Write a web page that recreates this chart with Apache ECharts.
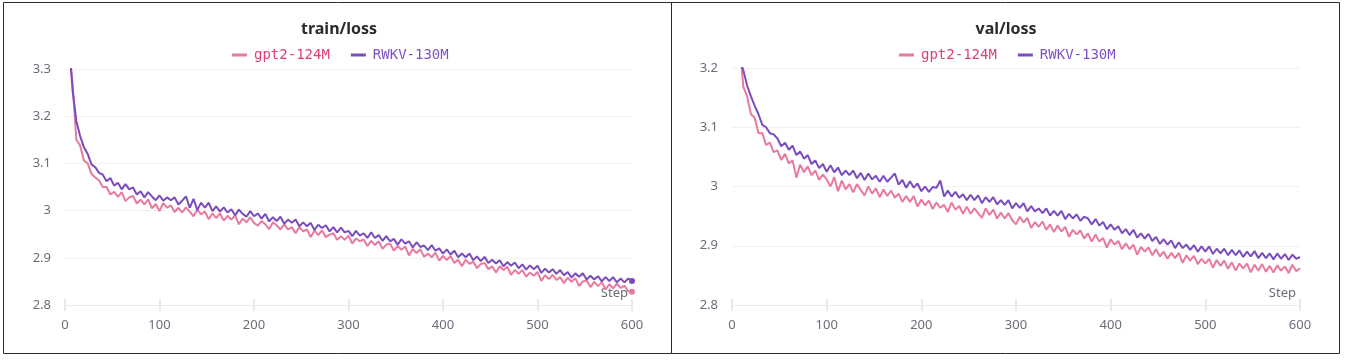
<!DOCTYPE html>
<html>
<head>
<meta charset="utf-8">
<script src="https://cdn.jsdelivr.net/npm/echarts@6/dist/echarts.min.js"></script>
<style>
html,body{margin:0;padding:0;background:#fff;}
#c{width:1345px;height:361px;}
</style>
</head>
<body>
<div id="c"></div>
<script>
// ---- data ----
const seriesNames = ['gpt2-124M', 'RWKV-130M'];
const xTicks = [0, 100, 200, 300, 400, 500, 600];

// train/loss sampled at steps 6, 8, 12, 16, ..., 600
const trainGpt2 = [
  3.31, 3.27, 3.15, 3.138, 3.106, 3.1, 3.078, 3.07, 3.064, 3.05,
  3.05, 3.034, 3.04, 3.029, 3.039, 3.02, 3.028, 3.031, 3.015, 3.023,
  3.013, 3.024, 3.005, 3.014, 2.999, 3.016, 3.006, 3.011, 2.997, 3.006,
  2.996, 3.007, 2.998, 2.988, 3.002, 2.992, 2.998, 2.982, 2.994, 2.984,
  2.994, 2.979, 2.989, 2.981, 2.99, 2.971, 2.983, 2.975, 2.986, 2.974,
  2.968, 2.978, 2.971, 2.961, 2.975, 2.969, 2.96, 2.971, 2.96, 2.965,
  2.952, 2.965, 2.956, 2.96, 2.944, 2.958, 2.948, 2.958, 2.944, 2.949,
  2.952, 2.938, 2.946, 2.938, 2.947, 2.93, 2.941, 2.935, 2.939, 2.925,
  2.936, 2.927, 2.935, 2.919, 2.928, 2.93, 2.915, 2.925, 2.917, 2.924,
  2.905, 2.919, 2.91, 2.918, 2.902, 2.909, 2.901, 2.911, 2.894, 2.904,
  2.895, 2.904, 2.889, 2.896, 2.882, 2.896, 2.887, 2.892, 2.878, 2.887,
  2.889, 2.876, 2.882, 2.869, 2.882, 2.874, 2.881, 2.864, 2.874, 2.866,
  2.874, 2.86, 2.869, 2.862, 2.87, 2.851, 2.863, 2.855, 2.864, 2.853,
  2.859, 2.846, 2.858, 2.849, 2.857, 2.84, 2.85, 2.852, 2.838, 2.849,
  2.84, 2.848, 2.833, 2.844, 2.835, 2.845, 2.836, 2.841, 2.829, 2.828
];
const trainRwkv = [
  3.31, 3.255, 3.19, 3.158, 3.134, 3.12, 3.098, 3.092, 3.08, 3.076,
  3.062, 3.069, 3.053, 3.059, 3.045, 3.056, 3.045, 3.049, 3.034, 3.041,
  3.028, 3.039, 3.03, 3.022, 3.032, 3.021, 3.028, 3.022, 3.028, 3.013,
  3.021, 3.03, 3.006, 3.025, 3.001, 3.017, 3.006, 3.017, 2.999, 3.009,
  2.998, 3.007, 2.996, 3.003, 2.99, 3.002, 2.993, 2.987, 2.999, 2.988,
  2.994, 2.983, 2.993, 2.977, 2.986, 2.978, 2.987, 2.972, 2.981, 2.974,
  2.981, 2.967, 2.975, 2.967, 2.974, 2.959, 2.97, 2.963, 2.969, 2.956,
  2.965, 2.954, 2.964, 2.954, 2.957, 2.946, 2.957, 2.947, 2.952, 2.942,
  2.954, 2.942, 2.948, 2.936, 2.946, 2.935, 2.94, 2.928, 2.939, 2.93,
  2.935, 2.922, 2.933, 2.923, 2.926, 2.916, 2.927, 2.915, 2.92, 2.909,
  2.918, 2.907, 2.915, 2.901, 2.909, 2.901, 2.909, 2.895, 2.903, 2.893,
  2.902, 2.889, 2.896, 2.888, 2.895, 2.882, 2.891, 2.883, 2.89, 2.878,
  2.886, 2.875, 2.884, 2.876, 2.883, 2.868, 2.877, 2.869, 2.876, 2.866,
  2.874, 2.863, 2.87, 2.858, 2.867, 2.86, 2.867, 2.854, 2.862, 2.854,
  2.861, 2.85, 2.859, 2.851, 2.859, 2.848, 2.856, 2.848, 2.856, 2.851
];

// val/loss sampled at steps 10, 12, 16, 20, ..., 600
const valGpt2 = [
  3.205, 3.168, 3.152, 3.122, 3.116, 3.09, 3.09, 3.07, 3.074, 3.058,
  3.061, 3.045, 3.055, 3.039, 3.044, 3.015, 3.037, 3.024, 3.034, 3.019,
  3.027, 3.011, 3.02, 3.012, 3.0, 3.016, 2.992, 3.01, 2.995, 3.004,
  2.99, 3.004, 2.994, 2.985, 3.0, 2.988, 2.997, 2.982, 2.995, 2.984,
  2.993, 2.981, 2.988, 2.974, 2.984, 2.974, 2.984, 2.966, 2.978, 2.968,
  2.976, 2.962, 2.973, 2.964, 2.969, 2.957, 2.973, 2.961, 2.967, 2.954,
  2.966, 2.954, 2.963, 2.955, 2.947, 2.963, 2.952, 2.961, 2.946, 2.956,
  2.946, 2.955, 2.943, 2.936, 2.949, 2.939, 2.947, 2.93, 2.94, 2.932,
  2.941, 2.927, 2.936, 2.923, 2.934, 2.924, 2.932, 2.915, 2.927, 2.919,
  2.926, 2.912, 2.921, 2.907, 2.919, 2.907, 2.913, 2.897, 2.911, 2.902,
  2.908, 2.894, 2.904, 2.894, 2.902, 2.885, 2.898, 2.89, 2.897, 2.884,
  2.894, 2.882, 2.89, 2.878, 2.888, 2.879, 2.888, 2.871, 2.884, 2.875,
  2.883, 2.869, 2.878, 2.87, 2.878, 2.863, 2.876, 2.866, 2.875, 2.861,
  2.872, 2.858, 2.87, 2.862, 2.87, 2.855, 2.868, 2.858, 2.869, 2.856,
  2.866, 2.855, 2.867, 2.858, 2.865, 2.854, 2.868, 2.857, 2.862
];
const valRwkv = [
  3.205, 3.196, 3.17, 3.152, 3.136, 3.122, 3.104, 3.1, 3.09, 3.088,
  3.081, 3.068, 3.074, 3.062, 3.069, 3.053, 3.059, 3.047, 3.053, 3.038,
  3.044, 3.031, 3.038, 3.025, 3.036, 3.024, 3.032, 3.019, 3.027, 3.019,
  3.027, 3.014, 3.023, 3.011, 3.022, 3.012, 3.018, 3.008, 3.018, 3.008,
  3.015, 3.022, 3.003, 3.011, 2.998, 3.009, 2.998, 3.005, 2.992, 3.0,
  2.991, 2.999, 2.998, 3.01, 2.983, 2.993, 2.983, 2.991, 2.981, 2.987,
  2.977, 2.986, 2.977, 2.985, 2.972, 2.982, 2.974, 2.982, 2.97, 2.977,
  2.969, 2.977, 2.963, 2.972, 2.964, 2.972, 2.958, 2.967, 2.958, 2.963,
  2.955, 2.963, 2.951, 2.959, 2.951, 2.959, 2.945, 2.954, 2.946, 2.953,
  2.942, 2.949, 2.946, 2.936, 2.945, 2.934, 2.94, 2.928, 2.936, 2.927,
  2.933, 2.921, 2.928, 2.918, 2.927, 2.914, 2.921, 2.912, 2.92, 2.908,
  2.915, 2.903, 2.911, 2.902, 2.909, 2.896, 2.906, 2.896, 2.902, 2.893,
  2.901, 2.89, 2.899, 2.89, 2.899, 2.886, 2.895, 2.887, 2.895, 2.884,
  2.893, 2.884, 2.892, 2.881, 2.89, 2.882, 2.891, 2.879, 2.888, 2.879,
  2.887, 2.877, 2.887, 2.878, 2.886, 2.876, 2.885, 2.878, 2.881
];

// sampling steps (x positions of the logged points)
const trainSteps = [6];
for (let s = 8; s <= 600; s += 4) trainSteps.push(s);
const valSteps = [10];
for (let s = 12; s <= 600; s += 4) valSteps.push(s);

// ---- styling ----
const PINK = '#e8799f';
const PURPLE = '#7a4dbe';
const PINK_TXT = '#e03e76';
const PURPLE_TXT = '#7e52c2';
const LABEL = '#6c6c78';
const FONT = '"Noto Sans", sans-serif';
const MONO = '"DejaVu Sans Mono", monospace';

function pairs(xs, ys) { return ys.map((v, i) => [xs[i], v]); }

const chart = echarts.init(document.getElementById('c'), null, {renderer: 'canvas'});

function xAxes(gi) {
  return [
    {
      type: 'value', gridIndex: gi, min: 0, max: 600, interval: 100, position: 'bottom',
      name: 'Step', nameLocation: 'end', nameGap: -4,
      nameTextStyle: {color: LABEL, fontFamily: FONT, fontSize: 13, align: 'right', verticalAlign: 'bottom', padding: [0, 0, 5, 0]},
      axisLine: {show: true, lineStyle: {color: '#ebebeb', width: 1}},
      axisTick: {show: true, length: 6, lineStyle: {color: '#e2e2e2', width: 1.5}},
      axisLabel: {color: LABEL, fontFamily: FONT, fontSize: 13, margin: 14,
        customValues: xTicks},
      splitLine: {show: false}
    },
    {
      type: 'value', gridIndex: gi, min: 0, max: 600, interval: 100, position: 'bottom',
      axisLine: {show: false},
      axisTick: {show: true, inside: true, length: 6, lineStyle: {color: '#e2e2e2', width: 1.5}},
      axisLabel: {show: false},
      splitLine: {show: false}
    }
  ];
}
function yAxis(gi, max) {
  return {
    type: 'value', gridIndex: gi, min: 2.8, max: max, interval: 0.1,
    axisLine: {show: false}, axisTick: {show: false},
    axisLabel: {color: LABEL, fontFamily: FONT, fontSize: 13, margin: 14},
    splitLine: {show: true, lineStyle: {color: '#f0f0f0', width: 1}}
  };
}
function line(name, xi, yi, data, color, dot) {
  const s = {
    name: name, type: 'line', xAxisIndex: xi, yAxisIndex: yi,
    data: data, showSymbol: false, symbol: 'none', smooth: false,
    lineStyle: {color: color, width: 2}, itemStyle: {color: color},
    emphasis: {disabled: true}, animation: false
  };
  if (dot) {
    const last = data[data.length - 1];
    s.markPoint = {
      symbol: 'circle', symbolSize: 6, silent: true, animation: false,
      itemStyle: {color: color},
      label: {show: false},
      data: [{coord: last}]
    };
  }
  return s;
}
function legendData() {
  return [
    {name: seriesNames[0], textStyle: {color: PINK_TXT}},
    {name: seriesNames[1], textStyle: {color: PURPLE_TXT}}
  ];
}

const option = {
  animation: false,
  backgroundColor: '#ffffff',
  title: [
    {text: 'train/loss', left: 339, top: 21, textAlign: 'center', padding: 0,
      textStyle: {color: '#2b2b2b', fontFamily: FONT, fontSize: 16, fontWeight: 'bold'}},
    {text: 'val/loss', left: 1006, top: 21, textAlign: 'center', padding: 0,
      textStyle: {color: '#2b2b2b', fontFamily: FONT, fontSize: 16, fontWeight: 'bold'}}
  ],
  legend: [
    {left: 232, top: 48, padding: 0, itemGap: 21, itemWidth: 15, itemHeight: 3, icon: 'rect',
      selectedMode: false, textStyle: {fontFamily: MONO, fontSize: 14, padding: [0, 0, 0, 2]}, data: legendData()},
    {left: 899, top: 48, padding: 0, itemGap: 21, itemWidth: 15, itemHeight: 3, icon: 'rect',
      selectedMode: false, textStyle: {fontFamily: MONO, fontSize: 14, padding: [0, 0, 0, 2]}, data: legendData()}
  ],
  grid: [
    {left: 65, top: 69, width: 567, height: 236, containLabel: false},
    {left: 732, top: 68, width: 568, height: 237, containLabel: false}
  ],
  xAxis: [...xAxes(0), ...xAxes(1)],
  yAxis: [yAxis(0, 3.3), yAxis(1, 3.2)],
  series: [
    line(seriesNames[0], 0, 0, pairs(trainSteps, trainGpt2), PINK, true),
    line(seriesNames[1], 0, 0, pairs(trainSteps, trainRwkv), PURPLE, true),
    line(seriesNames[0], 2, 1, pairs(valSteps, valGpt2), PINK, false),
    line(seriesNames[1], 2, 1, pairs(valSteps, valRwkv), PURPLE, false)
  ],
  graphic: [
    {type: 'rect', silent: true, z: 100, shape: {x: 3.5, y: 2.5, width: 668, height: 351},
      style: {fill: 'none', stroke: '#2a2a2a', lineWidth: 1}},
    {type: 'rect', silent: true, z: 100, shape: {x: 671.5, y: 2.5, width: 668, height: 351},
      style: {fill: 'none', stroke: '#2a2a2a', lineWidth: 1}}
  ]
};
chart.setOption(option);
</script>
</body>
</html>
